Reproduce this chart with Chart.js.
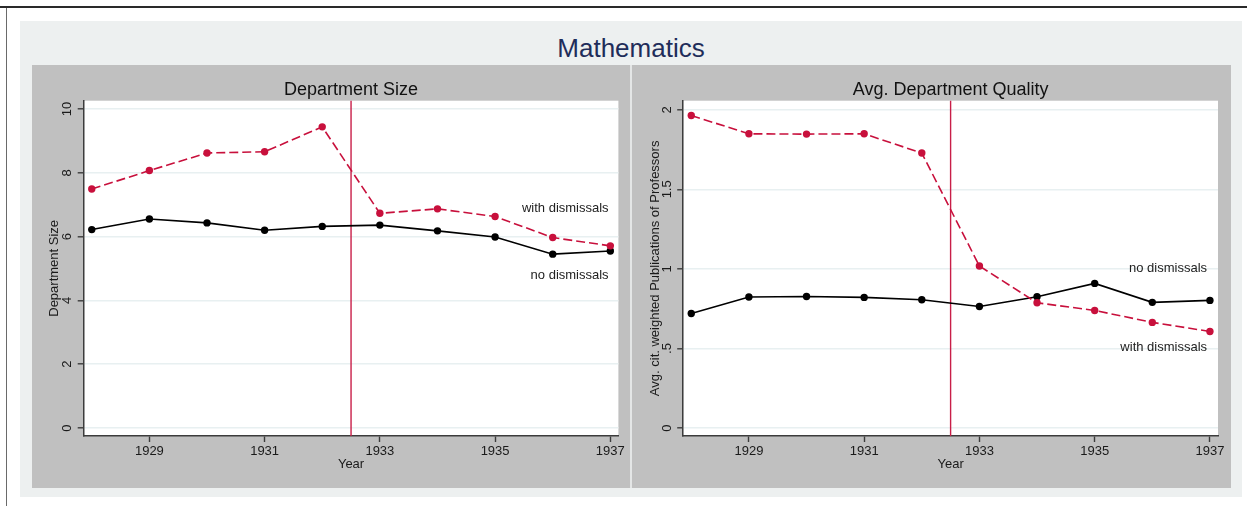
<!DOCTYPE html>
<html>
<head>
<meta charset="utf-8">
<script src="https://cdn.jsdelivr.net/npm/chart.js@4.4.1/dist/chart.umd.min.js"></script>
<style>
html,body{margin:0;padding:0;background:#ffffff;width:1247px;height:506px;overflow:hidden;font-family:"Liberation Sans",Arial,sans-serif;}
#topline{position:absolute;left:0;top:6px;width:1247px;height:2px;background:#2a2a2a;}
#leftline{position:absolute;left:6px;top:8px;width:1px;height:498px;background:#6a6a6a;}
#bg{position:absolute;left:20px;top:21px;width:1222px;height:476px;background:#edf0f0;}
#maintitle{position:absolute;left:20px;top:33px;width:1222px;text-align:center;font-size:26px;line-height:30px;color:#1f2d5a;font-family:"Liberation Sans",Arial,sans-serif;}
#sep{position:absolute;left:630px;top:65px;width:2px;height:423px;background:#e4e6e6;}
canvas{position:absolute;}
#c1{left:32px;top:65px;}
#c2{left:632px;top:65px;}
</style>
</head>
<body>
<div id="topline"></div>
<div id="leftline"></div>
<div id="bg"></div>
<div id="maintitle">Mathematics</div>
<div id="sep"></div>
<canvas id="c1" width="598" height="423"></canvas>
<canvas id="c2" width="599" height="423"></canvas>
<script>
// ---- data ----
const years = [1928, 1929, 1930, 1931, 1932, 1933, 1934, 1935, 1936, 1937];
const sizeWithDismissals = [7.49, 8.07, 8.62, 8.66, 9.44, 6.73, 6.87, 6.63, 5.97, 5.71];
const sizeNoDismissals   = [6.22, 6.55, 6.43, 6.20, 6.32, 6.36, 6.18, 5.99, 5.45, 5.55];
const qualWithDismissals = [1.964, 1.849, 1.847, 1.849, 1.728, 1.018, 0.787, 0.739, 0.664, 0.607];
const qualNoDismissals   = [0.720, 0.823, 0.827, 0.821, 0.806, 0.764, 0.825, 0.909, 0.790, 0.802];
const xTicks = [1929, 1931, 1933, 1935, 1937];
const sizeTicks = [0, 2, 4, 6, 8, 10];
const sizeTickLabels = ['0', '2', '4', '6', '8', '10'];
const qualTicks = [0, 0.5, 1, 1.5, 2];
const qualTickLabels = ['0', '.5', '1', '1.5', '2'];
const eventYear = 1932.5;
const seriesNames = ['with dismissals', 'no dismissals'];
const sizeLabelPos = [[1936.97, 6.88], [1936.97, 4.77]];
const qualLabelPos = [[1936.95, 0.508], [1936.95, 1.005]];

// ---- styling ----
const FONT = '"Liberation Sans", Arial, sans-serif';
const RED = '#c8103c';
const BLACK = '#000000';
const AXIS = '#3c3c3c';
const TXT = '#1a1a1a';

function toPoints(vals) { return years.map((y, i) => ({x: y, y: vals[i]})); }

function makePanel(id, o) {
  const deco = {
    id: 'deco_' + id,
    beforeDraw(chart) {
      const c = chart.ctx, a = chart.chartArea;
      c.save();
      c.fillStyle = '#c0c0c0';
      c.fillRect(0, 0, chart.width, chart.height);
      c.fillStyle = '#ffffff';
      c.fillRect(a.left, a.top, a.right - a.left, a.bottom - a.top);
      c.restore();
    },
    beforeDatasetsDraw(chart) {
      const c = chart.ctx, a = chart.chartArea;
      const px = chart.scales.x.getPixelForValue(eventYear);
      c.save();
      c.strokeStyle = '#c81e48';
      c.lineWidth = 1.4;
      c.beginPath();
      c.moveTo(px, a.top);
      c.lineTo(px, a.bottom);
      c.stroke();
      c.restore();
    },
    afterDraw(chart) {
      const c = chart.ctx, a = chart.chartArea;
      const ys = chart.scales.y, xs = chart.scales.x;
      c.save();
      c.fillStyle = TXT;
      c.font = '13px ' + FONT;
      c.textAlign = 'center';
      c.textBaseline = 'middle';
      o.yTicks.forEach((v, i) => {
        c.save();
        c.translate(o.yLabelX, ys.getPixelForValue(v));
        c.rotate(-Math.PI / 2);
        c.fillText(o.yTickLabels[i], 0, 0);
        c.restore();
      });
      c.font = '18px ' + FONT;
      c.fillStyle = '#111111';
      c.textBaseline = 'alphabetic';
      c.fillText(o.title, (a.left + a.right) / 2, 30);
      c.font = '13px ' + FONT;
      c.fillStyle = '#222222';
      c.textAlign = 'right';
      c.textBaseline = 'middle';
      o.labelPos.forEach((p, i) => {
        c.fillText(seriesNames[i], xs.getPixelForValue(p[0]), ys.getPixelForValue(p[1]));
      });
      c.restore();
    }
  };

  return new Chart(document.getElementById(id), {
    type: 'line',
    data: {
      datasets: [
        {
          label: seriesNames[0],
          data: toPoints(o.withVals),
          borderColor: RED, backgroundColor: RED,
          borderWidth: 1.6, borderDash: [9, 4],
          pointRadius: 3.7, pointBorderWidth: 0, pointHoverRadius: 3.7,
          tension: 0, fill: false
        },
        {
          label: seriesNames[1],
          data: toPoints(o.noVals),
          borderColor: BLACK, backgroundColor: BLACK,
          borderWidth: 1.6,
          pointRadius: 3.7, pointBorderWidth: 0, pointHoverRadius: 3.7,
          tension: 0, fill: false
        }
      ]
    },
    options: {
      responsive: false,
      animation: false,
      events: [],
      layout: { padding: { left: 0, top: 35.7, right: o.padRight, bottom: 0 } },
      plugins: { legend: { display: false }, tooltip: { enabled: false }, title: { display: false } },
      scales: {
        x: {
          type: 'linear',
          min: 1927.86, max: 1937.14,
          afterBuildTicks: s => { s.ticks = xTicks.map(v => ({value: v})); },
          afterFit: s => { s.height = 52; },
          grid: { drawOnChartArea: false, drawTicks: true, tickLength: 6, tickColor: AXIS, tickWidth: 1.4 },
          border: { display: true, color: AXIS, width: 1.5 },
          ticks: { color: TXT, font: { family: FONT, size: 13 }, padding: 2, autoSkip: false,
                   minRotation: 0, maxRotation: 0, callback: v => String(v) },
          title: { display: true, text: 'Year', color: TXT, font: { family: FONT, size: 13 },
                   padding: { top: 0, bottom: 15.7 } }
        },
        y: {
          type: 'linear',
          min: o.yMin, max: o.yMax,
          afterBuildTicks: s => { s.ticks = o.yTicks.map(v => ({value: v})); },
          afterFit: s => { s.width = o.yAxisW; },
          grid: { color: 'rgb(232,240,241)', lineWidth: 1.6, drawTicks: true, tickLength: 6,
                  tickColor: AXIS, tickWidth: 1.4 },
          border: { display: true, color: AXIS, width: 1.5 },
          ticks: { color: 'rgba(0,0,0,0)', font: { family: FONT, size: 13 } },
          title: { display: true, text: o.yTitle, color: TXT, font: { family: FONT, size: 13 },
                   padding: { top: o.yTitlePad, bottom: 0 } }
        }
      }
    },
    plugins: [deco]
  });
}

makePanel('c1', {
  title: 'Department Size',
  yTitle: 'Department Size',
  withVals: sizeWithDismissals, noVals: sizeNoDismissals,
  yTicks: sizeTicks, yTickLabels: sizeTickLabels,
  yMin: -0.25, yMax: 10.26,
  yAxisW: 51.7, padRight: 11.6, yTitlePad: 14.2, yLabelX: 35,
  labelPos: sizeLabelPos
});

makePanel('c2', {
  title: 'Avg. Department Quality',
  yTitle: 'Avg. cit. weighted Publications of Professors',
  withVals: qualWithDismissals, noVals: qualNoDismissals,
  yTicks: qualTicks, yTickLabels: qualTickLabels,
  yMin: -0.05, yMax: 2.057,
  yAxisW: 51.2, padRight: 13, yTitlePad: 15.2, yLabelX: 35,
  labelPos: qualLabelPos
});
</script>
</body>
</html>
